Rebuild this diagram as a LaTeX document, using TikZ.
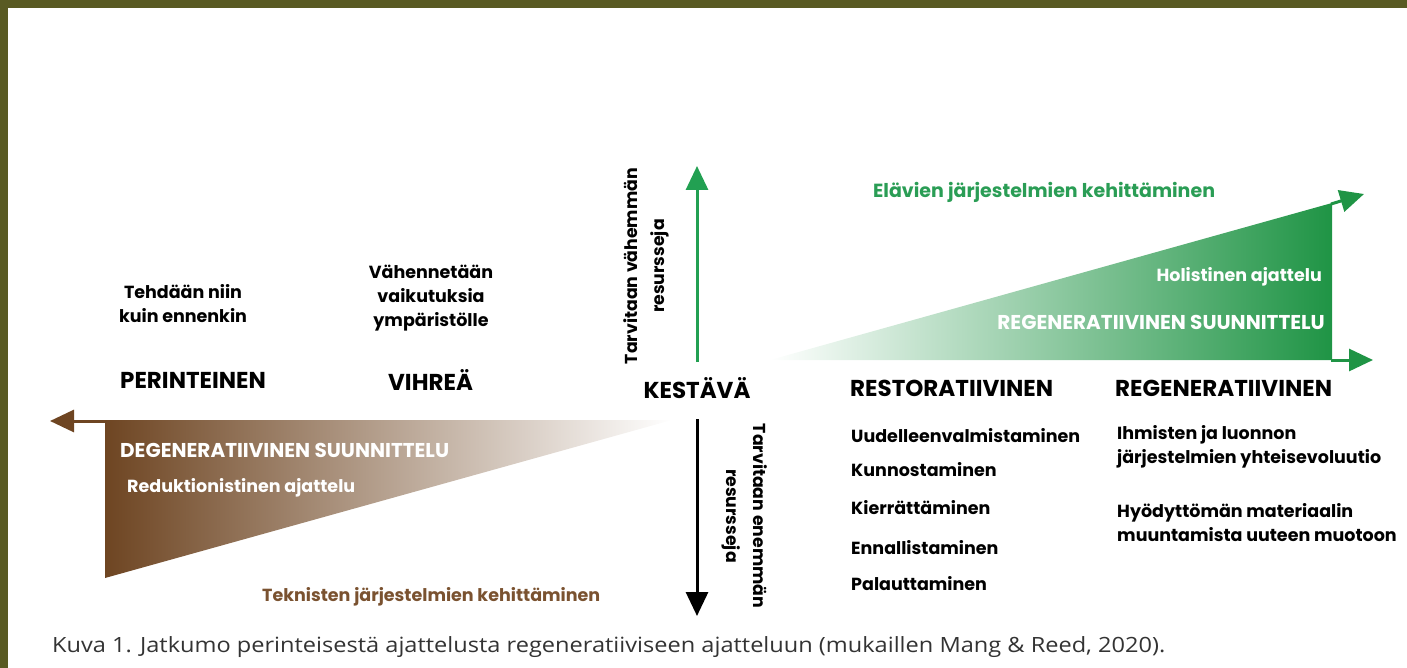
\documentclass[tikz,border=0pt]{standalone}
\usepackage{fontspec}
\setmainfont{Poppins}
\newfontfamily\capfont{Open Sans}
\usetikzlibrary{arrows.meta}

\definecolor{framegreen}{HTML}{595A23}
\definecolor{browndark}{HTML}{6E4522}
\definecolor{brownmid}{HTML}{8F6B4A}
\definecolor{browntext}{HTML}{7A5230}
\definecolor{greendark}{HTML}{1F9445}
\definecolor{greenmid}{HTML}{74B687}
\definecolor{greenarrow}{HTML}{22A052}
\definecolor{greentext}{HTML}{2A9D55}
\definecolor{captext}{HTML}{333333}

\tikzset{
  lbl/.style={font=\bfseries\fontsize{17.5}{24}\selectfont, inner sep=0pt},
  head/.style={font=\bfseries\fontsize{23}{26}\selectfont, inner sep=0pt},
  whitelbl/.style={lbl, text=white},
  whitecaps/.style={font=\bfseries\fontsize{20}{24}\selectfont, inner sep=0pt, text=white},
  sidelbl/.style={font=\bfseries\fontsize{17.3}{27}\selectfont, inner sep=0pt, align=center},
  axisarrow/.style={line width=3pt, -{Triangle[width=22pt,length=24pt]}}
}

\begin{document}
\begin{tikzpicture}[x=1pt,y=-1pt]
\useasboundingbox (0,0) rectangle (1407,668);
\fill[framegreen] (0,0) rectangle (1407,8);
\fill[framegreen] (0,0) rectangle (8,668);

% brown wedge and arrow
\shade[left color=browndark, middle color=brownmid, right color=white]
  (105,420) -- (672,420) -- (105,578) -- cycle;
\coordinate (bstart) at (106,421);
\coordinate (btip) at (50,421);
\draw[axisarrow, browndark] (bstart) -- (btip);

% green wedge and arrows
\shade[left color=white, middle color=greenmid, right color=greendark]
  (770,360) -- (1332,360) -- (1332,203) -- cycle;
\coordinate (gtop) at (1331,204);
\coordinate (gtoptip) at (1364,194);
\coordinate (gbottom) at (1331,360);
\coordinate (gbottomtip) at (1373,360);
\draw[axisarrow, greendark] (gtop) -- (gtoptip);
\draw[axisarrow, greendark] (gbottom) -- (gbottomtip);

% vertical axis
\node (kestava) [head] at (697,388) {KESTÄVÄ};
\coordinate (upstart) at (697,362);
\coordinate (uptip) at (697,166);
\coordinate (downstart) at (697,419);
\coordinate (downtip) at (697,616);
\draw[axisarrow, greenarrow] (upstart) -- (uptip);
\draw[axisarrow, black] (downstart) -- (downtip);
\node (less) [sidelbl, rotate=90] at (646,266) {Tarvitaan vähemmän\\resursseja};
\node (more) [sidelbl, rotate=-90] at (745,516) {Tarvitaan enemmän\\resursseja};

% headings
\node (perint) [head, anchor=west] at (120,380) {PERINTEINEN};
\node (vihrea) [head, anchor=west] at (388,380) {VIHREÄ};
\node (resto) [head, anchor=west] at (850,388) {RESTORATIIVINEN};
\node (regen) [head, anchor=west] at (1115,388) {REGENERATIIVINEN};

\node (perintnote) [lbl, align=center] at (183,304) {Tehdään niin\\kuin ennenkin};
\node (vihreanote) [lbl, align=center] at (431,298) {Vähennetään\\vaikutuksia\\ympäristölle};

% texts inside the wedges
\node (degen) [whitecaps, anchor=west] at (120,450) {DEGENERATIIVINEN SUUNNITTELU};
\node (reduk) [whitelbl, anchor=west] at (127,488) {Reduktionistinen ajattelu};
\node (holis) [whitelbl, anchor=east] at (1322,277) {Holistinen ajattelu};
\node (regsuun) [whitecaps, anchor=east] at (1325,322) {REGENERATIIVINEN SUUNNITTELU};

\node (tekn) [lbl, text=browntext, anchor=west] at (262,597) {Teknisten järjestelmien kehittäminen};
\node (elav) [lbl, font=\bfseries\fontsize{19}{24}\selectfont, text=greentext, anchor=west] at (873,192) {Elävien järjestelmien kehittäminen};

% restorative list
\node (uud) [lbl, anchor=west] at (851,436) {Uudelleenvalmistaminen};
\node (kunn) [lbl, anchor=west] at (851,470) {Kunnostaminen};
\node (kier) [lbl, anchor=west] at (851,508) {Kierrättäminen};
\node (enna) [lbl, anchor=west] at (851,548) {Ennallistaminen};
\node (pala) [lbl, anchor=west] at (851,584) {Palauttaminen};

% regenerative list
\node (ihm) [lbl, anchor=west, align=left] at (1117,447) {Ihmisten ja luonnon\\järjestelmien yhteisevoluutio};
\node (hyod) [lbl, anchor=west, align=left] at (1117,523) {Hyödyttömän materiaalin\\muuntamista uuteen muotoon};

% caption
\node (caption) [anchor=west, inner sep=0pt, text=captext] at (52,647)
  {\capfont\fontsize{21}{24}\selectfont\resizebox{1113pt}{\height}{Kuva 1. Jatkumo perinteisestä ajattelusta regeneratiiviseen ajatteluun (mukaillen Mang \& Reed, 2020).}};
\end{tikzpicture}
\end{document}
